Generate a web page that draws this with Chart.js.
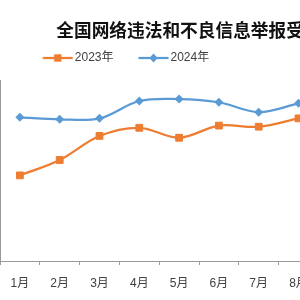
<!DOCTYPE html>
<html>
<head>
<meta charset="utf-8">
<script src="https://cdn.jsdelivr.net/npm/chart.js@4.4.1/dist/chart.umd.min.js"></script>
<style>
html,body{margin:0;padding:0;width:300px;height:300px;overflow:hidden;background:#fff;}
#wrap{position:relative;width:300px;height:300px;overflow:hidden;}
#c{position:absolute;left:-120px;top:0;}
</style>
</head>
<body>
<div id="wrap"><canvas id="c" width="477" height="300"></canvas></div>
<script>
// ---- data ----
const titleText = '全国网络违法和不良信息举报受理情况';
const months = ['1月','2月','3月','4月','5月','6月','7月','8月'];
const seriesNames = ['2023年','2024年'];
const values2023 = [1473, 1558, 1691, 1736, 1681, 1748, 1742, 1788];
const values2024 = [1794, 1783, 1788, 1884, 1895, 1877, 1822, 1871];
const yMin = 1000;
const yMax = 2000;

// ---- styles ----
const ORANGE = '#ED7D31';
const BLUE = '#5B9BD5';
const AXIS = '#9a9a9a';
const TEXT = '#404040';
const FONT = "'Liberation Sans', 'Noto Sans CJK SC', sans-serif";

function legendImage(color, shape) {
  const c = document.createElement('canvas');
  c.width = 50; c.height = 12;
  const g = c.getContext('2d');
  g.strokeStyle = color; g.lineWidth = 2.25;
  g.beginPath(); g.moveTo(19.5, 6); g.lineTo(49.5, 6); g.stroke();
  g.fillStyle = color;
  const cx = 34.5, cy = 6;
  g.beginPath();
  if (shape === 'rect') {
    g.rect(cx - 3.7, cy - 3.7, 7.4, 7.4);
  } else {
    g.moveTo(cx - 4.2, cy); g.lineTo(cx, cy - 4.5); g.lineTo(cx + 4.2, cy); g.lineTo(cx, cy + 4.5); g.closePath();
  }
  g.fill();
  return c;
}
const legendImgs = [legendImage(ORANGE, 'rect'), legendImage(BLUE, 'diamond')];

new Chart(document.getElementById('c'), {
  type: 'line',
  data: {
    labels: months,
    datasets: [
      {
        label: seriesNames[0], data: values2023,
        borderColor: ORANGE, backgroundColor: ORANGE, borderWidth: 2.25,
        pointStyle: 'rect', pointRadius: 4.8, pointBorderWidth: 1,
        pointBackgroundColor: ORANGE, pointBorderColor: ORANGE,
        tension: 0.35, fill: false
      },
      {
        label: seriesNames[1], data: values2024,
        borderColor: BLUE, backgroundColor: BLUE, borderWidth: 2.25,
        pointStyle: 'rectRot', pointRadius: 4.5, pointBorderWidth: 0,
        pointBackgroundColor: BLUE, pointBorderColor: BLUE,
        tension: 0.35, fill: false
      }
    ]
  },
  options: {
    responsive: false,
    animation: false,
    devicePixelRatio: 1,
    events: [],
    layout: { padding: 0, autoPadding: false },
    plugins: {
      tooltip: { enabled: false },
      title: {
        display: true, text: titleText, align: 'end', color: '#111',
        font: { family: "'Noto Sans CJK SC', sans-serif", size: 17.7, weight: 'bold', lineHeight: 1.2 },
        padding: { top: 19.4, bottom: 1.36 }
      },
      legend: {
        display: true, position: 'top', align: 'center',
        labels: {
          usePointStyle: true, pointStyleWidth: 41, padding: 10,
          color: TEXT, font: { family: FONT, size: 12 },
          generateLabels: (chart) => chart.data.datasets.map((ds, i) => ({
            text: ds.label, pointStyle: legendImgs[i], datasetIndex: i,
            hidden: false, fontColor: TEXT, lineWidth: 0,
            strokeStyle: 'rgba(0,0,0,0)', fillStyle: 'rgba(0,0,0,0)'
          }))
        }
      },
      subtitle: {
        display: true, text: '', position: 'top', weight: 500,
        font: { size: 6, lineHeight: 1 }, padding: { top: 0, bottom: 0 }
      }
    },
    scales: {
      x: {
        type: 'category', offset: true,
        grid: { display: true, offset: true, drawOnChartArea: false, drawTicks: true, tickLength: 4, color: AXIS, lineWidth: 1 },
        border: { display: true, color: AXIS, width: 1 },
        ticks: { color: TEXT, font: { family: FONT, size: 12 }, padding: 11, maxRotation: 0, autoSkip: false },
        afterFit: (s) => { s.height = 39; }
      },
      y: {
        type: 'linear', position: 'left', min: yMin, max: yMax,
        grid: { display: false },
        border: { display: true, color: AXIS, width: 1 },
        ticks: { display: false },
        afterFit: (s) => { s.width = 120; }
      },
      yRight: {
        type: 'linear', position: 'right', min: yMin, max: yMax,
        grid: { display: false },
        border: { display: false },
        ticks: { display: false },
        afterFit: (s) => { s.width = 38.6; }
      }
    }
  }
});
</script>
</body>
</html>
